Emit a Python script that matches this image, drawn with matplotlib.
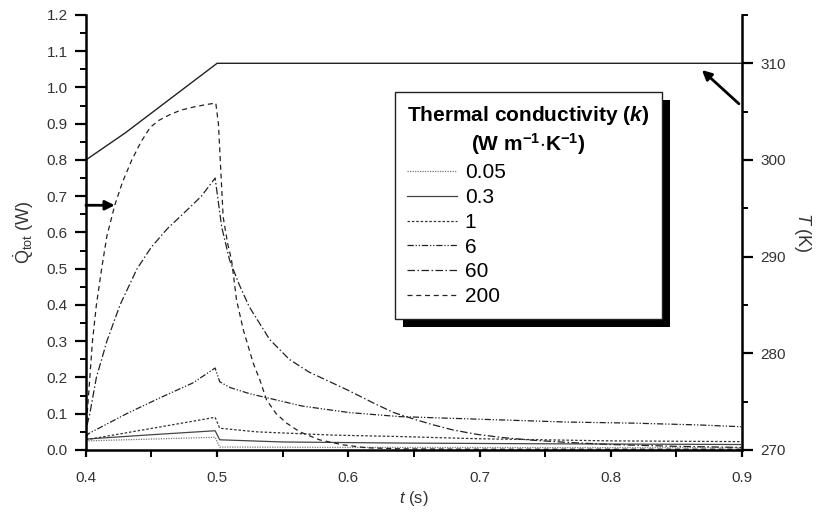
import matplotlib
matplotlib.use('Agg')
import matplotlib.pyplot as plt
import matplotlib.ticker as ticker
from matplotlib.patches import Rectangle

plt.rcParams['font.family'] = ['Liberation Sans', 'DejaVu Sans']
plt.rcParams['mathtext.fontset'] = 'custom'
plt.rcParams['mathtext.rm'] = 'Liberation Sans'
plt.rcParams['mathtext.it'] = 'Liberation Sans:italic'
plt.rcParams['mathtext.bf'] = 'Liberation Sans:bold'
plt.rcParams['mathtext.bfit'] = 'Liberation Sans:bold:italic'

# heat flow curves, Q_tot (W) vs t (s), one per thermal conductivity
t_200 = [0.400, 0.401, 0.403, 0.405, 0.408, 0.412, 0.416, 0.422, 0.428, 0.435, 0.442, 0.449,
         0.456, 0.464, 0.472, 0.482, 0.492, 0.499, 0.501, 0.502, 0.5046, 0.508, 0.511, 0.5148,
         0.520, 0.5275, 0.5326, 0.5377, 0.545, 0.553, 0.563, 0.578, 0.596, 0.614, 0.64, 0.7, 0.8, 0.9]
q_200 = [0.03, 0.10, 0.20, 0.30, 0.40, 0.50, 0.59, 0.675, 0.74, 0.80, 0.85, 0.89,
         0.91, 0.925, 0.937, 0.946, 0.953, 0.957, 0.90, 0.83, 0.643, 0.57, 0.524, 0.414,
         0.331, 0.24, 0.193, 0.138, 0.10, 0.074, 0.05, 0.028, 0.014, 0.006, 0.003, 0.002, 0.002, 0.002]

t_60 = [0.400, 0.401, 0.403, 0.408, 0.416, 0.426, 0.439, 0.450, 0.462, 0.478, 0.488, 0.4985,
        0.5035, 0.5095, 0.517, 0.5245, 0.540, 0.555, 0.570, 0.586, 0.599, 0.609, 0.620, 0.634,
        0.650, 0.665, 0.680, 0.698, 0.718, 0.740, 0.766, 0.80, 0.85, 0.9]
q_60 = [0.03, 0.07, 0.10, 0.20, 0.30, 0.40, 0.50, 0.56, 0.61, 0.665, 0.70, 0.75,
        0.615, 0.524, 0.455, 0.395, 0.305, 0.25, 0.215, 0.188, 0.166, 0.148, 0.128, 0.104,
        0.085, 0.069, 0.055, 0.043, 0.034, 0.027, 0.021, 0.015, 0.010, 0.007]

t_6 = [0.400, 0.402, 0.431, 0.456, 0.4816, 0.4985, 0.502, 0.510, 0.525, 0.545, 0.565,
       0.601, 0.639, 0.698, 0.766, 0.817, 0.867, 0.9]
q_6 = [0.035, 0.045, 0.10, 0.143, 0.185, 0.226, 0.188, 0.172, 0.155, 0.138, 0.121,
       0.103, 0.092, 0.085, 0.077, 0.074, 0.069, 0.064]

t_1 = [0.400, 0.451, 0.4985, 0.502, 0.530, 0.588, 0.639, 0.698, 0.8, 0.9]
q_1 = [0.028, 0.060, 0.090, 0.060, 0.050, 0.041, 0.037, 0.031, 0.025, 0.023]

t_03 = [0.400, 0.450, 0.4985, 0.502, 0.550, 0.640, 0.750, 0.9]
q_03 = [0.030, 0.042, 0.053, 0.028, 0.022, 0.019, 0.017, 0.015]

t_005 = [0.400, 0.4985, 0.502, 0.600, 0.9]
q_005 = [0.025, 0.035, 0.008, 0.007, 0.006]

# applied temperature (K)
t_temp = [0.40, 0.43, 0.50, 0.90]
temp = [300.0, 302.8, 310.0, 310.0]

labels = ['0.05', '0.3', '1', '6', '60', '200']

fig = plt.figure(figsize=(8.18, 5.16), dpi=100)
ax1 = fig.add_axes([0.105, 0.128, 0.802, 0.843])
ax2 = ax1.twinx()

lw = 0.9
ax1.plot(t_005, q_005, color='#777777', lw=lw, ls=(0, (1, 1)), label=labels[0])
ax1.plot(t_03, q_03, color='#444444', lw=lw, ls='-', label=labels[1])
ax1.plot(t_1, q_1, color='#333333', lw=lw, ls=(0, (2, 1.5)), label=labels[2])
ax1.plot(t_6, q_6, color='#222222', lw=lw, ls=(0, (5, 1.5, 1, 1.5, 1, 1.5)), label=labels[3])
ax1.plot(t_60, q_60, color='#222222', lw=lw, ls=(0, (6, 2, 1.2, 2)), label=labels[4])
ax1.plot(t_200, q_200, color='#222222', lw=lw, ls=(0, (4, 3)), label=labels[5])

ax2.plot(t_temp, temp, color='#222222', lw=1.0)

ax1.set_xlim(0.4, 0.9)
ax1.set_ylim(0, 1.2)
ax2.set_ylim(270, 315)

ax1.xaxis.set_major_locator(ticker.MultipleLocator(0.1))
ax1.xaxis.set_minor_locator(ticker.MultipleLocator(0.05))
ax1.xaxis.set_major_formatter(ticker.FormatStrFormatter('%.1f'))
ax1.yaxis.set_major_locator(ticker.MultipleLocator(0.1))
ax1.yaxis.set_minor_locator(ticker.MultipleLocator(0.05))
ax1.yaxis.set_major_formatter(ticker.FormatStrFormatter('%.1f'))
ax2.yaxis.set_major_locator(ticker.FixedLocator([270, 280, 290, 300, 310]))
ax2.yaxis.set_minor_locator(ticker.MultipleLocator(5))

for ax in (ax1, ax2):
    ax.spines['top'].set_visible(False)
    for s in ax.spines.values():
        s.set_linewidth(1.8)
    ax.tick_params(which='major', direction='out', length=8, width=1.6, pad=5,
                   labelsize=11, labelcolor='#333333')
    ax.tick_params(which='minor', direction='out', length=4, width=1.4)
ax1.spines['right'].set_visible(False)
ax2.spines['left'].set_visible(False)
ax2.spines['bottom'].set_visible(False)
ax1.tick_params(axis='x', which='both', length=5, pad=10)

ax1.set_xlabel(r'$t$ (s)', fontsize=12, color='#333333', labelpad=3)
ax1.set_ylabel(r'$\dot{\mathrm{Q}}_{\mathrm{tot}}$ (W)', fontsize=13, color='#333333', labelpad=8)
ax2.set_ylabel(r'$T$ (K)', fontsize=13, color='#333333', rotation=-90, labelpad=20)

# arrows pointing at the matching axis
ax1.annotate('', xy=(0.422, 0.675), xytext=(0.4, 0.675),
             arrowprops=dict(arrowstyle='-|>', lw=2, color='k', mutation_scale=14,
                             shrinkA=0, shrinkB=0))
ax1.annotate('', xy=(0.8695, 1.048), xytext=(0.8977, 0.955),
             arrowprops=dict(arrowstyle='-|>', lw=2, color='k', mutation_scale=14,
                             shrinkA=0, shrinkB=0))

leg = ax1.legend(loc='upper left', bbox_to_anchor=(0.471, 0.823), alignment='left',
                 borderaxespad=0,
                 title='Thermal conductivity ($\\mathbfit{k}$)\n(W m$^{\\mathbf{-1}}$$\\cdot$K$^{\\mathbf{-1}}$)',
                 title_fontproperties={'weight': 'bold', 'size': 15},
                 fontsize=15, handlelength=2.4, handletextpad=0.35, labelspacing=0.28,
                 borderpad=0.6, fancybox=False, framealpha=1, edgecolor='#222222')
leg.get_frame().set_linewidth(1.0)
leg.get_title().set_multialignment('center')
leg.set_zorder(6)

fig.canvas.draw()
bb = leg.get_window_extent().transformed(ax2.transAxes.inverted())
ax2.add_patch(Rectangle((bb.x0 + 0.012, bb.y0 - 0.018), bb.width, bb.height,
                        transform=ax2.transAxes, facecolor='black', edgecolor='none',
                        clip_on=False, zorder=5))
ax2.set_zorder(0)
ax1.set_zorder(1)
ax1.patch.set_visible(False)

fig.savefig('out.png', dpi=100)
